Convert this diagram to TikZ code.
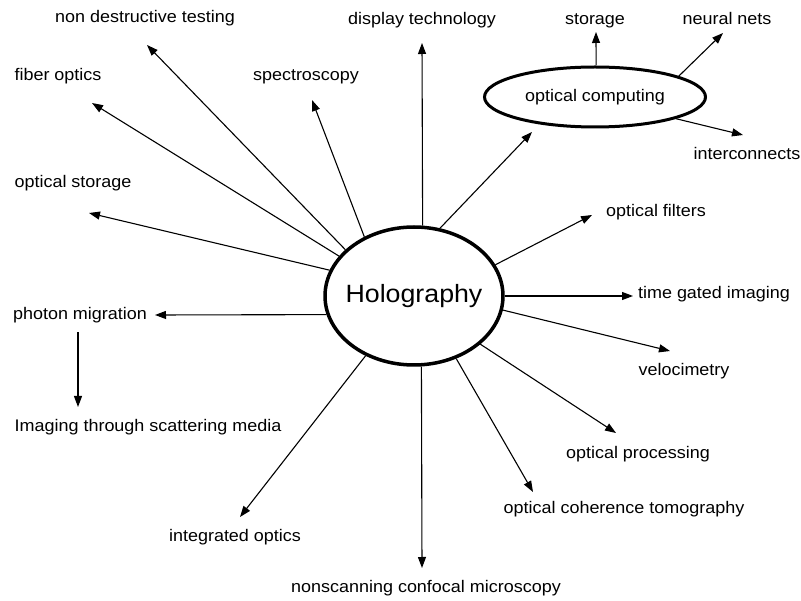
\documentclass[tikz,border=0pt]{standalone}
\usepackage{fontspec}
\setmainfont{Liberation Sans}[FakeStretch=1.07]
\usetikzlibrary{shapes.geometric,arrows.meta}
\tikzset{
  lab/.style={font=\fontsize{16.8}{20}\selectfont, inner sep=0pt, text height=12.2pt, text depth=3.5pt},
  arr/.style={-{Triangle[length=11pt,width=8pt]}, line width=1.1pt},
}
\begin{document}
\begin{tikzpicture}[x=1pt,y=-1pt]
\useasboundingbox (0,0) rectangle (801,601);
%\draw [help lines] (0,0) grid[step=50] (801,601);
\node [ellipse, draw, line width=3.5pt, minimum width=178pt, minimum height=138pt, inner sep=-7pt,
       font=\fontsize{25}{30}\selectfont] (holo) at (414,296) {Holography};
\node [ellipse, draw, line width=3pt, minimum width=221pt, minimum height=60pt, inner sep=0pt, lab] (comp) at (595,97) {optical computing};

\node [lab] (ndt) at (145,18) {non destructive testing};
\node [lab] (disp) at (422,20) {display technology};
\node [lab] (stor) at (595,20) {storage};
\node [lab] (neur) at (727,20) {neural nets};
\node [lab] (inter) at (747,155) {interconnects};
\node [lab] (fib) at (58,76) {fiber optics};
\node [lab] (spec) at (306,76) {spectroscopy};
\node [lab] (ostor) at (73,183) {optical storage};
\node [lab] (filt) at (656,212) {optical filters};
\node [lab] (tgi) at (714,294) {time gated imaging};
\node [lab] (phot) at (80,315) {photon migration};
\node [lab] (velo) at (684,371) {velocimetry};
\node [lab] (scat) at (148,427) {Imaging through scattering media};
\node [lab] (proc) at (638,454) {optical processing};
\node [lab] (oct) at (624,509) {optical coherence tomography};
\node [lab] (integ) at (235,537) {integrated optics};
\node [lab] (ncm) at (426,588) {nonscanning confocal microscopy};

% arrow tips
\coordinate (t-ndt) at (147,45);
\coordinate (t-disp) at (422,43);
\coordinate (t-spec) at (312,100);
\coordinate (t-fib) at (92,103);
\coordinate (t-ostor) at (89,213);
\coordinate (t-comp) at (532,132);
\coordinate (t-stor) at (596,32);
\coordinate (t-neur) at (723,33);
\coordinate (t-inter) at (743,135);
\coordinate (t-filt) at (592,215);
\coordinate (t-tgi) at (633,296);
\coordinate (t-velo) at (670,351);
\coordinate (t-proc) at (616,433);
\coordinate (t-oct) at (533,492);
\coordinate (t-ncm) at (422,568);
\coordinate (t-integ) at (240,517);
\coordinate (t-phot) at (155,315);
\coordinate (t-scat) at (78,407);

\draw [arr] (holo.146) -- (t-ndt);
\draw [arr] (holo.83.4) -- (t-disp);
\draw [arr] (holo.130) -- (t-spec);
\draw [arr] (holo.152) -- (t-fib);
\draw [arr] (holo.163) -- (t-ostor);
\draw [arr] (holo.69) -- (t-comp);
\draw [arr] (holo.21.5) -- (t-filt);
\draw [arr] (holo.0) -- (t-tgi);
\draw [arr] (holo.351) -- (t-velo);
\draw [arr] (holo.324) -- (t-proc);
\draw [arr] (holo.304.4) -- (t-oct);
\draw [arr] (holo.276.6) -- (t-ncm);
\draw [arr] (holo.231.5) -- (t-integ);
\draw [arr] (holo.192.5) -- (t-phot);
\draw [arr] ([yshift=-9pt]phot.south -| t-scat) -- (t-scat);

\draw [arr] (comp.88) -- (t-stor);
\draw [arr] (comp.14.5) -- (t-neur);
\draw [arr] (comp.345.5) -- (t-inter);
\end{tikzpicture}
\end{document}
